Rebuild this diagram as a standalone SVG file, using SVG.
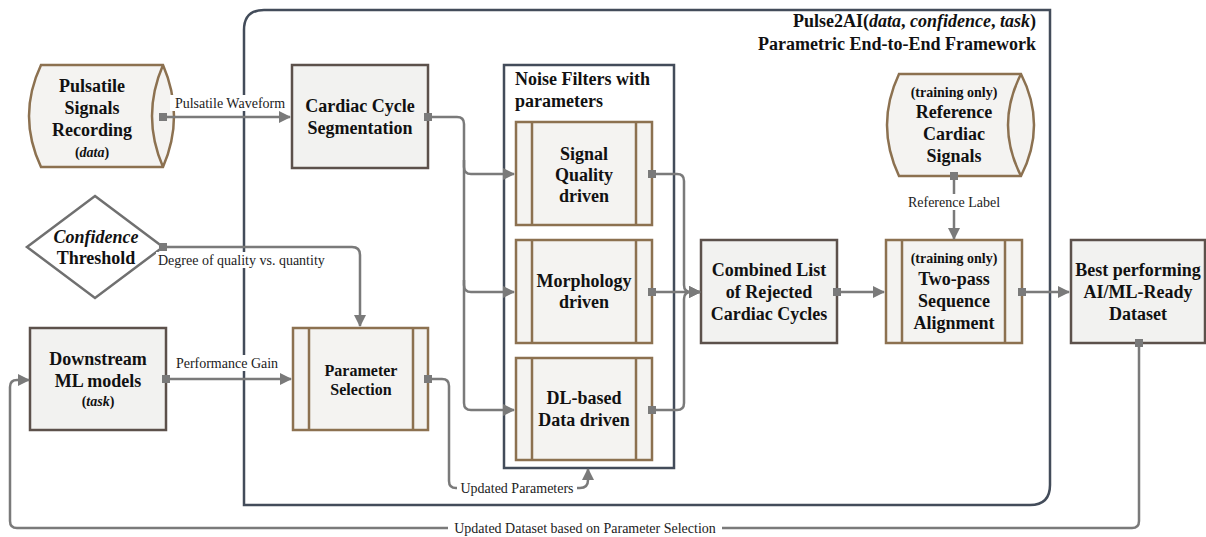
<svg xmlns="http://www.w3.org/2000/svg" width="1206" height="537" viewBox="0 0 1206 537">
<defs>
<style>
.t{font-family:"Liberation Serif","DejaVu Serif","Noto Serif","FreeSerif","Times New Roman",serif;font-weight:bold;font-size:18px;fill:#111;text-anchor:middle}
.s{font-size:14px}
.lbl{font-family:"Liberation Serif","DejaVu Serif","Noto Serif","FreeSerif","Times New Roman",serif;font-size:14px;fill:#222}
.bx{fill:#f2f2f0;stroke:#5c514b;stroke-width:2.5}
.pr{fill:#f4f3f1;stroke:#8c7150;stroke-width:2.5}
.ln{fill:none;stroke:#8c7150;stroke-width:2.5}
.c{fill:none;stroke:#7a7a7a;stroke-width:2.5}
.fr{fill:none;stroke:#434c5a;stroke-width:2.5}
</style>
<marker id="ah" markerWidth="12" markerHeight="12" refX="11" refY="6" orient="auto" markerUnits="userSpaceOnUse">
<path d="M0,0 L12,6 L0,12 Z" fill="#7a7a7a"/>
</marker>
<marker id="sq" markerWidth="8" markerHeight="8" refX="4" refY="4" orient="auto" markerUnits="userSpaceOnUse">
<rect x="0" y="0" width="8" height="8" fill="#7a7a7a"/>
</marker>
</defs>
<rect width="1206" height="537" fill="#fff"/>

<g id="framework">
<path class="fr" d="M264 10 H1050 V485 Q1050 505 1030 505 H244 V30 Q244 10 264 10 Z"/>
<text class="t" x="1036" y="27" style="text-anchor:end">Pulse2AI(<tspan font-style="italic">data</tspan>, <tspan font-style="italic">confidence</tspan>, <tspan font-style="italic">task</tspan>)</text>
<text class="t" x="1036" y="50" style="text-anchor:end">Parametric End-to-End Framework</text>
</g>

<g id="noise-filters">
<rect class="fr" x="504" y="65" width="170" height="403"/>
<text class="t" x="515" y="85" style="text-anchor:start">Noise Filters with</text>
<text class="t" x="515" y="107" style="text-anchor:start">parameters</text>
</g>

<g id="pulsatile-signals">
<path class="pr" d="M41 65 H163 Q185 116 163 167 H41 Q17 116 41 65 Z"/>
<path class="ln" d="M163 65 Q141 116 163 167"/>
<text class="t" x="92" y="92">Pulsatile</text>
<text class="t" x="92" y="114">Signals</text>
<text class="t" x="92" y="136">Recording</text>
<text class="t s" x="92" y="157">(<tspan font-style="italic">data</tspan>)</text>
</g>

<g id="cardiac-cycle-segmentation">
<rect class="bx" x="292" y="65" width="136" height="103"/>
<text class="t" x="360" y="112">Cardiac Cycle</text>
<text class="t" x="360" y="134">Segmentation</text>
</g>

<g id="signal-quality">
<rect class="pr" x="516" y="122" width="136" height="103"/>
<path class="ln" d="M532 122 V225 M636 122 V225"/>
<text class="t" x="584" y="160">Signal</text>
<text class="t" x="584" y="181">Quality</text>
<text class="t" x="584" y="202">driven</text>
</g>

<g id="morphology">
<rect class="pr" x="516" y="240" width="136" height="103"/>
<path class="ln" d="M532 240 V343 M636 240 V343"/>
<text class="t" x="584" y="287">Morphology</text>
<text class="t" x="584" y="308">driven</text>
</g>

<g id="dl-based">
<rect class="pr" x="516" y="358" width="136" height="102"/>
<path class="ln" d="M532 358 V460 M636 358 V460"/>
<text class="t" x="584" y="404">DL-based</text>
<text class="t" x="584" y="426">Data driven</text>
</g>

<g id="combined-list">
<rect class="bx" x="701" y="240" width="136" height="103"/>
<text class="t" x="769" y="276">Combined List</text>
<text class="t" x="769" y="298">of Rejected</text>
<text class="t" x="769" y="320">Cardiac Cycles</text>
</g>

<g id="reference-signals">
<path class="pr" d="M899 74 H1021 Q1047 125 1021 176 H899 Q875 125 899 74 Z"/>
<path class="ln" d="M1021 74 Q995 125 1021 176"/>
<text class="t s" x="954" y="97">(training only)</text>
<text class="t" x="954" y="118">Reference</text>
<text class="t" x="954" y="140">Cardiac</text>
<text class="t" x="954" y="162">Signals</text>
</g>

<g id="two-pass-alignment">
<rect class="pr" x="886" y="240" width="136" height="103"/>
<path class="ln" d="M902 240 V343 M1005 240 V343"/>
<text class="t s" x="954" y="263">(training only)</text>
<text class="t" x="954" y="285">Two-pass</text>
<text class="t" x="954" y="307">Sequence</text>
<text class="t" x="954" y="329">Alignment</text>
</g>

<g id="best-dataset">
<rect class="bx" x="1071" y="240" width="134" height="103"/>
<text class="t" x="1138" y="276">Best performing</text>
<text class="t" x="1138" y="298">AI/ML-Ready</text>
<text class="t" x="1138" y="320">Dataset</text>
</g>

<g id="confidence-threshold">
<path d="M95 196 L163 247 L95 298 L27 247 Z" fill="#fff" stroke="#707070" stroke-width="2.5"/>
<text class="t" x="96" y="243" font-style="italic">Confidence</text>
<text class="t" x="96" y="264">Threshold</text>
</g>

<g id="downstream-ml">
<rect class="bx" x="30" y="328" width="136" height="102"/>
<text class="t" x="98" y="365">Downstream</text>
<text class="t" x="98" y="387">ML models</text>
<text class="t s" x="98" y="406">(<tspan font-style="italic">task</tspan>)</text>
</g>

<g id="parameter-selection">
<rect class="pr" x="293" y="328" width="135" height="102"/>
<path class="ln" d="M309 328 V430 M413 328 V430"/>
<text class="t" x="361" y="376" style="font-size:16px">Parameter</text>
<text class="t" x="361" y="395" style="font-size:16px">Selection</text>
</g>

<g id="connectors">
<path class="c" d="M163 117 H290" marker-start="url(#sq)" marker-end="url(#ah)"/>
<path class="c" d="M428 117 H457 Q464 117 464 124 V167 Q464 174 471 174 H514" marker-start="url(#sq)" marker-end="url(#ah)"/>
<path class="c" d="M464 160 V285 Q464 292 471 292 H514" marker-end="url(#ah)"/>
<path class="c" d="M464 280 V403 Q464 410 471 410 H514" marker-end="url(#ah)"/>
<path class="c" d="M652 174 H677 Q684 174 684 181 V285 Q684 292 691 292 H700" marker-start="url(#sq)" marker-end="url(#ah)"/>
<path class="c" d="M652 292 H700" marker-start="url(#sq)" marker-end="url(#ah)"/>
<path class="c" d="M652 410 H677 Q684 410 684 403 V299 Q684 292 691 292 H700" marker-start="url(#sq)" marker-end="url(#ah)"/>
<path class="c" d="M837 292 H884" marker-start="url(#sq)" marker-end="url(#ah)"/>
<path class="c" d="M1022 292 H1069" marker-start="url(#sq)" marker-end="url(#ah)"/>
<path class="c" d="M954 176 V239" marker-start="url(#sq)" marker-end="url(#ah)"/>
<path class="c" d="M163 247 H352 Q360 247 360 255 V326" marker-start="url(#sq)" marker-end="url(#ah)"/>
<path class="c" d="M166 379 H291" marker-start="url(#sq)" marker-end="url(#ah)"/>
<path class="c" d="M428 379 H442 Q449 379 449 386 V481 Q449 488 456 488 H580 Q588 488 588 480 V469" marker-start="url(#sq)" marker-end="url(#ah)"/>
<path class="c" d="M1139 343 V521 Q1139 528 1132 528 H17 Q10 528 10 521 V387 Q10 380 17 380 H29" marker-start="url(#sq)" marker-end="url(#ah)"/>
<rect x="170" y="95" width="118" height="16" fill="#fff"/>
<text class="lbl" x="230" y="108" text-anchor="middle">Pulsatile Waveform</text>
<rect x="156" y="252" width="176" height="16" fill="#fff"/>
<text class="lbl" x="158" y="265">Degree of quality vs. quantity</text>
<rect x="172" y="355" width="110" height="16" fill="#fff"/>
<text class="lbl" x="227" y="368" text-anchor="middle">Performance Gain</text>
<rect x="904" y="194" width="100" height="16" fill="#fff"/>
<text class="lbl" x="954" y="207" text-anchor="middle">Reference Label</text>
<rect x="457" y="480" width="120" height="16" fill="#fff"/>
<text class="lbl" x="517" y="493" text-anchor="middle">Updated Parameters</text>
<rect x="448" y="520" width="274" height="16" fill="#fff"/>
<text class="lbl" x="585" y="533" text-anchor="middle">Updated Dataset based on Parameter Selection</text>
</g>
</svg>
